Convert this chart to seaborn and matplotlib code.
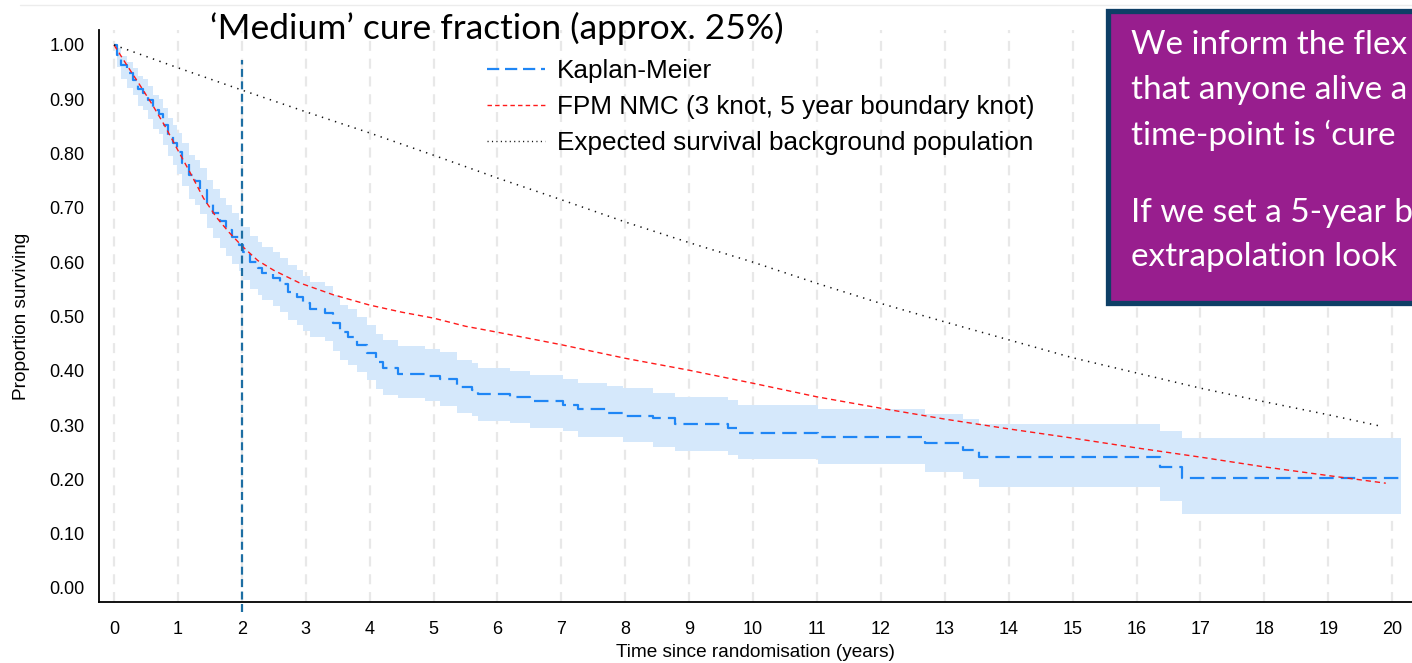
import matplotlib
matplotlib.use("Agg")
import matplotlib.pyplot as plt
import seaborn as sns
import pandas as pd
from matplotlib.lines import Line2D
from matplotlib.patches import Rectangle

# ---------------- data ----------------
km_time = [0.00, 0.04, 0.11, 0.20, 0.29, 0.37, 0.45, 0.53, 0.61, 0.70, 0.77, 0.85, 0.92, 0.99,
           1.07, 1.17, 1.27, 1.35, 1.45, 1.55, 1.66, 1.75, 1.85, 1.95, 2.02, 2.12, 2.25, 2.32,
           2.49, 2.60, 2.72, 2.87, 2.96, 3.06, 3.30, 3.42, 3.54, 3.66, 3.80, 3.96, 4.10, 4.21,
           4.45, 4.87, 5.10, 5.37, 5.60, 5.70, 6.20, 6.51, 7.03, 7.26, 7.71, 7.97, 8.44, 8.78,
           9.61, 9.77, 11.02, 12.69, 13.28, 13.54, 16.37, 16.71, 20.14]
km_surv = [1.000, 0.982, 0.963, 0.948, 0.936, 0.919, 0.912, 0.898, 0.880, 0.872, 0.853, 0.834, 0.819, 0.803,
           0.783, 0.760, 0.750, 0.733, 0.709, 0.691, 0.675, 0.660, 0.646, 0.632, 0.618, 0.601, 0.590, 0.580,
           0.571, 0.560, 0.545, 0.536, 0.524, 0.514, 0.506, 0.488, 0.471, 0.462, 0.448, 0.433, 0.416, 0.405,
           0.394, 0.390, 0.385, 0.370, 0.365, 0.357, 0.352, 0.344, 0.337, 0.330, 0.323, 0.317, 0.313, 0.302,
           0.295, 0.285, 0.278, 0.267, 0.254, 0.241, 0.223, 0.203, 0.203]
km_lower = [1.000, 0.960, 0.938, 0.921, 0.907, 0.888, 0.880, 0.864, 0.845, 0.836, 0.815, 0.795, 0.779, 0.762,
            0.741, 0.717, 0.706, 0.688, 0.663, 0.644, 0.627, 0.612, 0.597, 0.583, 0.568, 0.551, 0.540, 0.530,
            0.520, 0.509, 0.494, 0.485, 0.473, 0.463, 0.455, 0.437, 0.420, 0.411, 0.397, 0.383, 0.366, 0.356,
            0.350, 0.345, 0.336, 0.322, 0.317, 0.308, 0.304, 0.295, 0.289, 0.278, 0.278, 0.269, 0.260, 0.252,
            0.245, 0.237, 0.228, 0.214, 0.200, 0.186, 0.160, 0.136, 0.136]
km_upper = [1.000, 0.995, 0.980, 0.968, 0.958, 0.942, 0.937, 0.924, 0.908, 0.901, 0.884, 0.866, 0.852, 0.838,
            0.819, 0.798, 0.789, 0.773, 0.751, 0.734, 0.719, 0.705, 0.691, 0.678, 0.664, 0.648, 0.638, 0.628,
            0.619, 0.608, 0.594, 0.585, 0.574, 0.564, 0.556, 0.539, 0.522, 0.513, 0.499, 0.484, 0.467, 0.456,
            0.446, 0.441, 0.435, 0.420, 0.415, 0.405, 0.400, 0.392, 0.385, 0.378, 0.372, 0.368, 0.360, 0.352,
            0.346, 0.337, 0.330, 0.320, 0.311, 0.302, 0.289, 0.276, 0.276]

fpm_time = [0.0, 0.2, 0.4, 0.6, 0.8, 1.0, 1.2, 1.4, 1.6, 1.8, 2.0, 2.25, 2.5, 2.9, 3.43, 4.0, 4.5,
            5.0, 5.5, 6.0, 7.0, 8.0, 9.0, 10.0, 11.0, 12.0, 13.0, 14.0, 15.0, 16.0, 17.0, 18.0, 19.0, 19.9]
fpm_surv = [1.000, 0.963, 0.927, 0.890, 0.850, 0.806, 0.763, 0.718, 0.683, 0.655, 0.630, 0.603, 0.585,
            0.562, 0.540, 0.521, 0.508, 0.497, 0.482, 0.471, 0.448, 0.423, 0.401, 0.377, 0.352, 0.331,
            0.311, 0.293, 0.276, 0.258, 0.241, 0.223, 0.207, 0.193]

exp_time = [0, 1, 2, 3, 4, 5, 6, 7, 8, 9, 10, 11, 12, 13, 14, 15, 16, 17, 18, 19, 19.86]
exp_surv = [1.000, 0.958, 0.917, 0.877, 0.838, 0.797, 0.755, 0.715, 0.674, 0.636, 0.600, 0.561,
            0.524, 0.490, 0.457, 0.424, 0.396, 0.368, 0.343, 0.319, 0.297]

boundary_time = 2
x_ticks = list(range(0, 21))
y_ticks = [0.0, 0.1, 0.2, 0.3, 0.4, 0.5, 0.6, 0.7, 0.8, 0.9, 1.0]

title_text = "\u2018Medium\u2019 cure fraction (approx. 25%)"
legend_labels = ["Kaplan-Meier", "FPM NMC (3 knot, 5 year boundary knot)",
                 "Expected survival background population"]
# the callout is cropped at the slide edge in the reference; only the visible part is kept
box_lines = ["We inform the flex",
             "that anyone alive a",
             "time-point is \u2018cure",
             "If we set a 5-year b",
             "extrapolation look"]

# ---------------- styling ----------------
sns.set_theme(style="white")
plt.rcParams["font.family"] = ["Liberation Sans", "DejaVu Sans"]

W, H = 1412, 663
fig = plt.figure(figsize=(W / 100, H / 100), dpi=100)
ax = fig.add_axes([99 / W, 1 - 602 / H, 1 - 99 / W, (602 - 30) / H])

km_df = pd.DataFrame({"t": km_time, "s": km_surv, "lo": km_lower, "hi": km_upper})
fpm_df = pd.DataFrame({"t": fpm_time, "s": fpm_surv})
exp_df = pd.DataFrame({"t": exp_time, "s": exp_surv})

KM_BLUE = "#1f86f5"
CI_BLUE = "#d5e8fb"

ax.fill_between(km_df["t"], km_df["lo"], km_df["hi"], step="post", color=CI_BLUE, lw=0, zorder=1)
sns.lineplot(data=km_df, x="t", y="s", ax=ax, color=KM_BLUE, lw=1.6,
             linestyle=(0, (6.5, 3.2)), drawstyle="steps-post", errorbar=None, zorder=3)
sns.lineplot(data=fpm_df, x="t", y="s", ax=ax, color="#ff1a1a", lw=1.0,
             linestyle=(0, (3.8, 2.8)), errorbar=None, zorder=4)
sns.lineplot(data=exp_df, x="t", y="s", ax=ax, color="#111111", lw=1.1,
             linestyle=(0, (0.9, 3.6)), errorbar=None, zorder=4)

# boundary-knot reference line
ax.plot([boundary_time, boundary_time], [-0.044, 0.972], color="#1d6ea3", lw=1.6,
        linestyle=(0, (3.6, 2.0)), clip_on=False, zorder=5)

ax.set_xlim(-0.235, 20.31)
ax.set_ylim(-0.0258, 1.0276)
ax.set_xticks(x_ticks)
ax.set_xticklabels([str(v) for v in x_ticks])
ax.set_yticks(y_ticks)
ax.set_yticklabels([f"{v:.2f}" for v in y_ticks])

ax.xaxis.grid(True, color="#e8e8e8", lw=1.6, linestyle=(0, (4.5, 3.5)))
ax.yaxis.grid(False)
ax.set_axisbelow(True)

for side in ["top", "right"]:
    ax.spines[side].set_visible(False)
for side in ["left", "bottom"]:
    ax.spines[side].set_color("black")
    ax.spines[side].set_linewidth(1.3)

ax.tick_params(axis="both", which="major", direction="out", length=7, width=1.1,
               color="black", labelsize=13, labelcolor="black")
ax.tick_params(axis="x", pad=7)
ax.tick_params(axis="y", pad=3.5)
ax.set_xlabel("Time since randomisation (years)", fontsize=13.7, color="black", labelpad=4)
ax.set_ylabel("Proportion surviving", fontsize=13.7, color="black", labelpad=14)

# legend
handles = [Line2D([], [], color=KM_BLUE, lw=1.6, linestyle=(0, (5.5, 2.6))),
           Line2D([], [], color="#ff1a1a", lw=1.0, linestyle=(0, (3.2, 2.3))),
           Line2D([], [], color="#111111", lw=1.0, linestyle=(0, (0.8, 2.4)))]
leg = ax.legend(handles, legend_labels, loc="upper left", bbox_to_anchor=(487 / W, 1 - 59 / H),
                bbox_transform=fig.transFigure, frameon=False, fontsize=18.8,
                handlelength=2.22, handletextpad=0.46, labelspacing=0.46,
                borderpad=0, borderaxespad=0)
for txt in leg.get_texts():
    txt.set_color("black")

# title
fig.text(210 / W, 1 - 28 / H, title_text, fontsize=25.5, family=["Lato", "DejaVu Sans"],
         color="black", ha="left", va="center")

# faint slide line at the top
fig.add_artist(Line2D([20 / W, 1.0], [1 - 5 / H, 1 - 5 / H], color="#ececec", lw=1.0))

# purple callout box (cropped at the right edge)
box = Rectangle((1108 / W, 1 - 303 / H), 0.4, (303 - 11) / H, transform=fig.transFigure,
                facecolor="#981e8e", edgecolor="#0e3f66", lw=3.8, zorder=10)
fig.add_artist(box)
for line, ypx in zip(box_lines, [45, 90, 135, 213, 257]):
    fig.text(1131 / W, 1 - ypx / H, line, fontsize=24, family=["Lato", "DejaVu Sans"],
             color="white", ha="left", va="center", zorder=11)

fig.savefig("out.png", dpi=100)
